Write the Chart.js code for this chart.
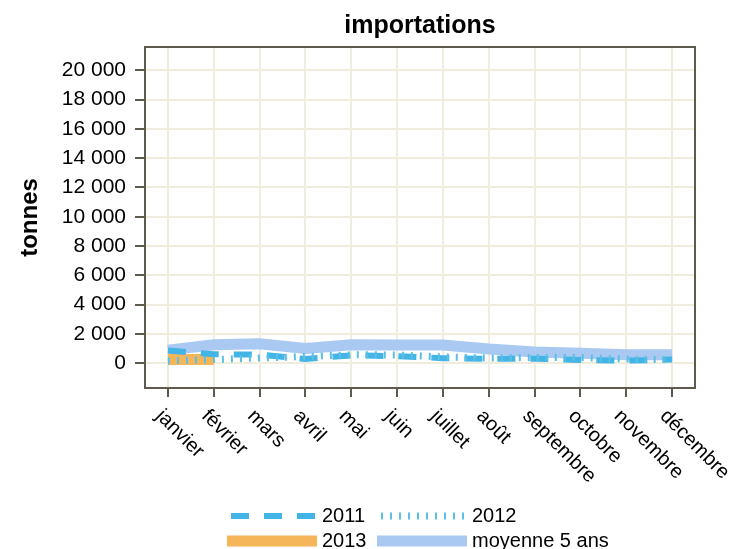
<!DOCTYPE html>
<html>
<head>
<meta charset="utf-8">
<script src="https://cdn.jsdelivr.net/npm/chart.js@4"></script>
<style>body{margin:0;background:#fff}</style>
</head>
<body>
<canvas id="chart" width="733" height="549"></canvas>
<script>
const months = ['janvier', 'février', 'mars', 'avril', 'mai', 'juin', 'juillet', 'août', 'septembre', 'octobre', 'novembre', 'décembre'];
const yTicks = [0, 2000, 4000, 6000, 8000, 10000, 12000, 14000, 16000, 18000, 20000];

const imp2011 = [860, 600, 580, 280, 530, 480, 340, 300, 300, 220, 170, 240];
const imp2012 = [150, 250, 350, 450, 570, 560, 420, 350, 380, 380, 280, 230];
const imp2013 = [250, 250, null, null, null, null, null, null, null, null, null, null];
const moyenne5 = [890, 1250, 1330, 1000, 1250, 1230, 1230, 960, 760, 670, 570, 570];

const FONT = '"Liberation Sans", Arial, sans-serif';
const fmt = (v) => String(v).replace(/\B(?=(\d{3})+(?!\d))/g, ' ');

// titre, cadre, étiquettes obliques et légende dessinés à la main
const decor = {
    id: 'decor',
    afterDraw(chart) {
        const {ctx, chartArea: a} = chart;
        const xs = chart.scales.x;
        const cx = (a.left + a.right) / 2;
        ctx.save();
        ctx.strokeStyle = '#5e5a4e';
        ctx.lineWidth = 2;
        ctx.setLineDash([]);
        ctx.strokeRect(a.left, a.top, a.right - a.left, a.bottom - a.top);

        ctx.fillStyle = '#000';
        ctx.font = 'bold 25px ' + FONT;
        ctx.textAlign = 'center';
        ctx.textBaseline = 'middle';
        ctx.fillText('importations', cx, 26);

        ctx.font = '20px ' + FONT;
        ctx.textAlign = 'left';
        months.forEach((m, i) => {
            ctx.save();
            ctx.translate(xs.getPixelForTick(i) - 9, a.bottom + 25);
            ctx.rotate(Math.PI / 4);
            ctx.fillText(m, 0, 0);
            ctx.restore();
        });

        const slots = [[cx - 193, 516], [cx - 43, 516], [cx - 193, 541], [cx - 43, 541]];
        chart.data.datasets.forEach((ds, i) => {
            const [sx, sy] = slots[i];
            ctx.strokeStyle = ds.borderColor;
            ctx.lineWidth = ds.borderWidth;
            ctx.lineCap = 'butt';
            ctx.setLineDash(ds.borderDash || []);
            ctx.lineDashOffset = ds.borderDash ? ds.borderDash[0] + ds.borderDash[1] - 4 : 0;
            ctx.beginPath();
            ctx.moveTo(sx, sy);
            ctx.lineTo(sx + 90, sy);
            ctx.stroke();
            ctx.fillText(ds.label, sx + 95, sy);
        });
        ctx.restore();
    }
};

new Chart(document.getElementById('chart'), {
    type: 'line',
    data: {
        labels: months,
        datasets: [
            {label: '2011', data: imp2011, borderColor: '#43b4e6', borderWidth: 6, borderDash: [18, 15], order: 2},
            {label: '2012', data: imp2012, borderColor: '#5cbfe4', borderWidth: 7, borderDash: [2, 7], order: 1},
            {label: '2013', data: imp2013, borderColor: '#f5b65a', borderWidth: 11, order: 3},
            {label: 'moyenne 5 ans', data: moyenne5, borderColor: '#a9c9f3', borderWidth: 11, order: 4}
        ]
    },
    options: {
        responsive: false,
        animation: false,
        layout: {padding: {top: 47, right: 38, left: 0, bottom: 0}},
        elements: {
            point: {radius: 0},
            line: {tension: 0, fill: false, borderCapStyle: 'butt'}
        },
        plugins: {
            legend: {display: false},
            title: {display: false},
            tooltip: {enabled: false}
        },
        scales: {
            x: {
                offset: true,
                grid: {offset: false, color: '#f0eddc', lineWidth: 2, tickColor: '#5e5a4e', tickWidth: 2, tickLength: 9},
                border: {display: false},
                ticks: {display: false},
                afterFit: (s) => { s.height = 161; }
            },
            y: {
                min: -1700,
                max: 21600,
                grid: {color: '#f0eddc', lineWidth: 2, tickColor: '#5e5a4e', tickWidth: 2, tickLength: 10},
                border: {display: false},
                ticks: {color: '#000', padding: 9, font: {family: FONT, size: 21}, callback: (v) => fmt(v)},
                title: {display: true, text: 'tonnes', color: '#000', font: {family: FONT, size: 24, weight: 'bold'}, padding: {top: 16, bottom: 0}},
                afterBuildTicks: (s) => { s.ticks = yTicks.map((v) => ({value: v})); },
                afterFit: (s) => { s.width = 145; }
            }
        }
    },
    plugins: [decor]
});
</script>
</body>
</html>
